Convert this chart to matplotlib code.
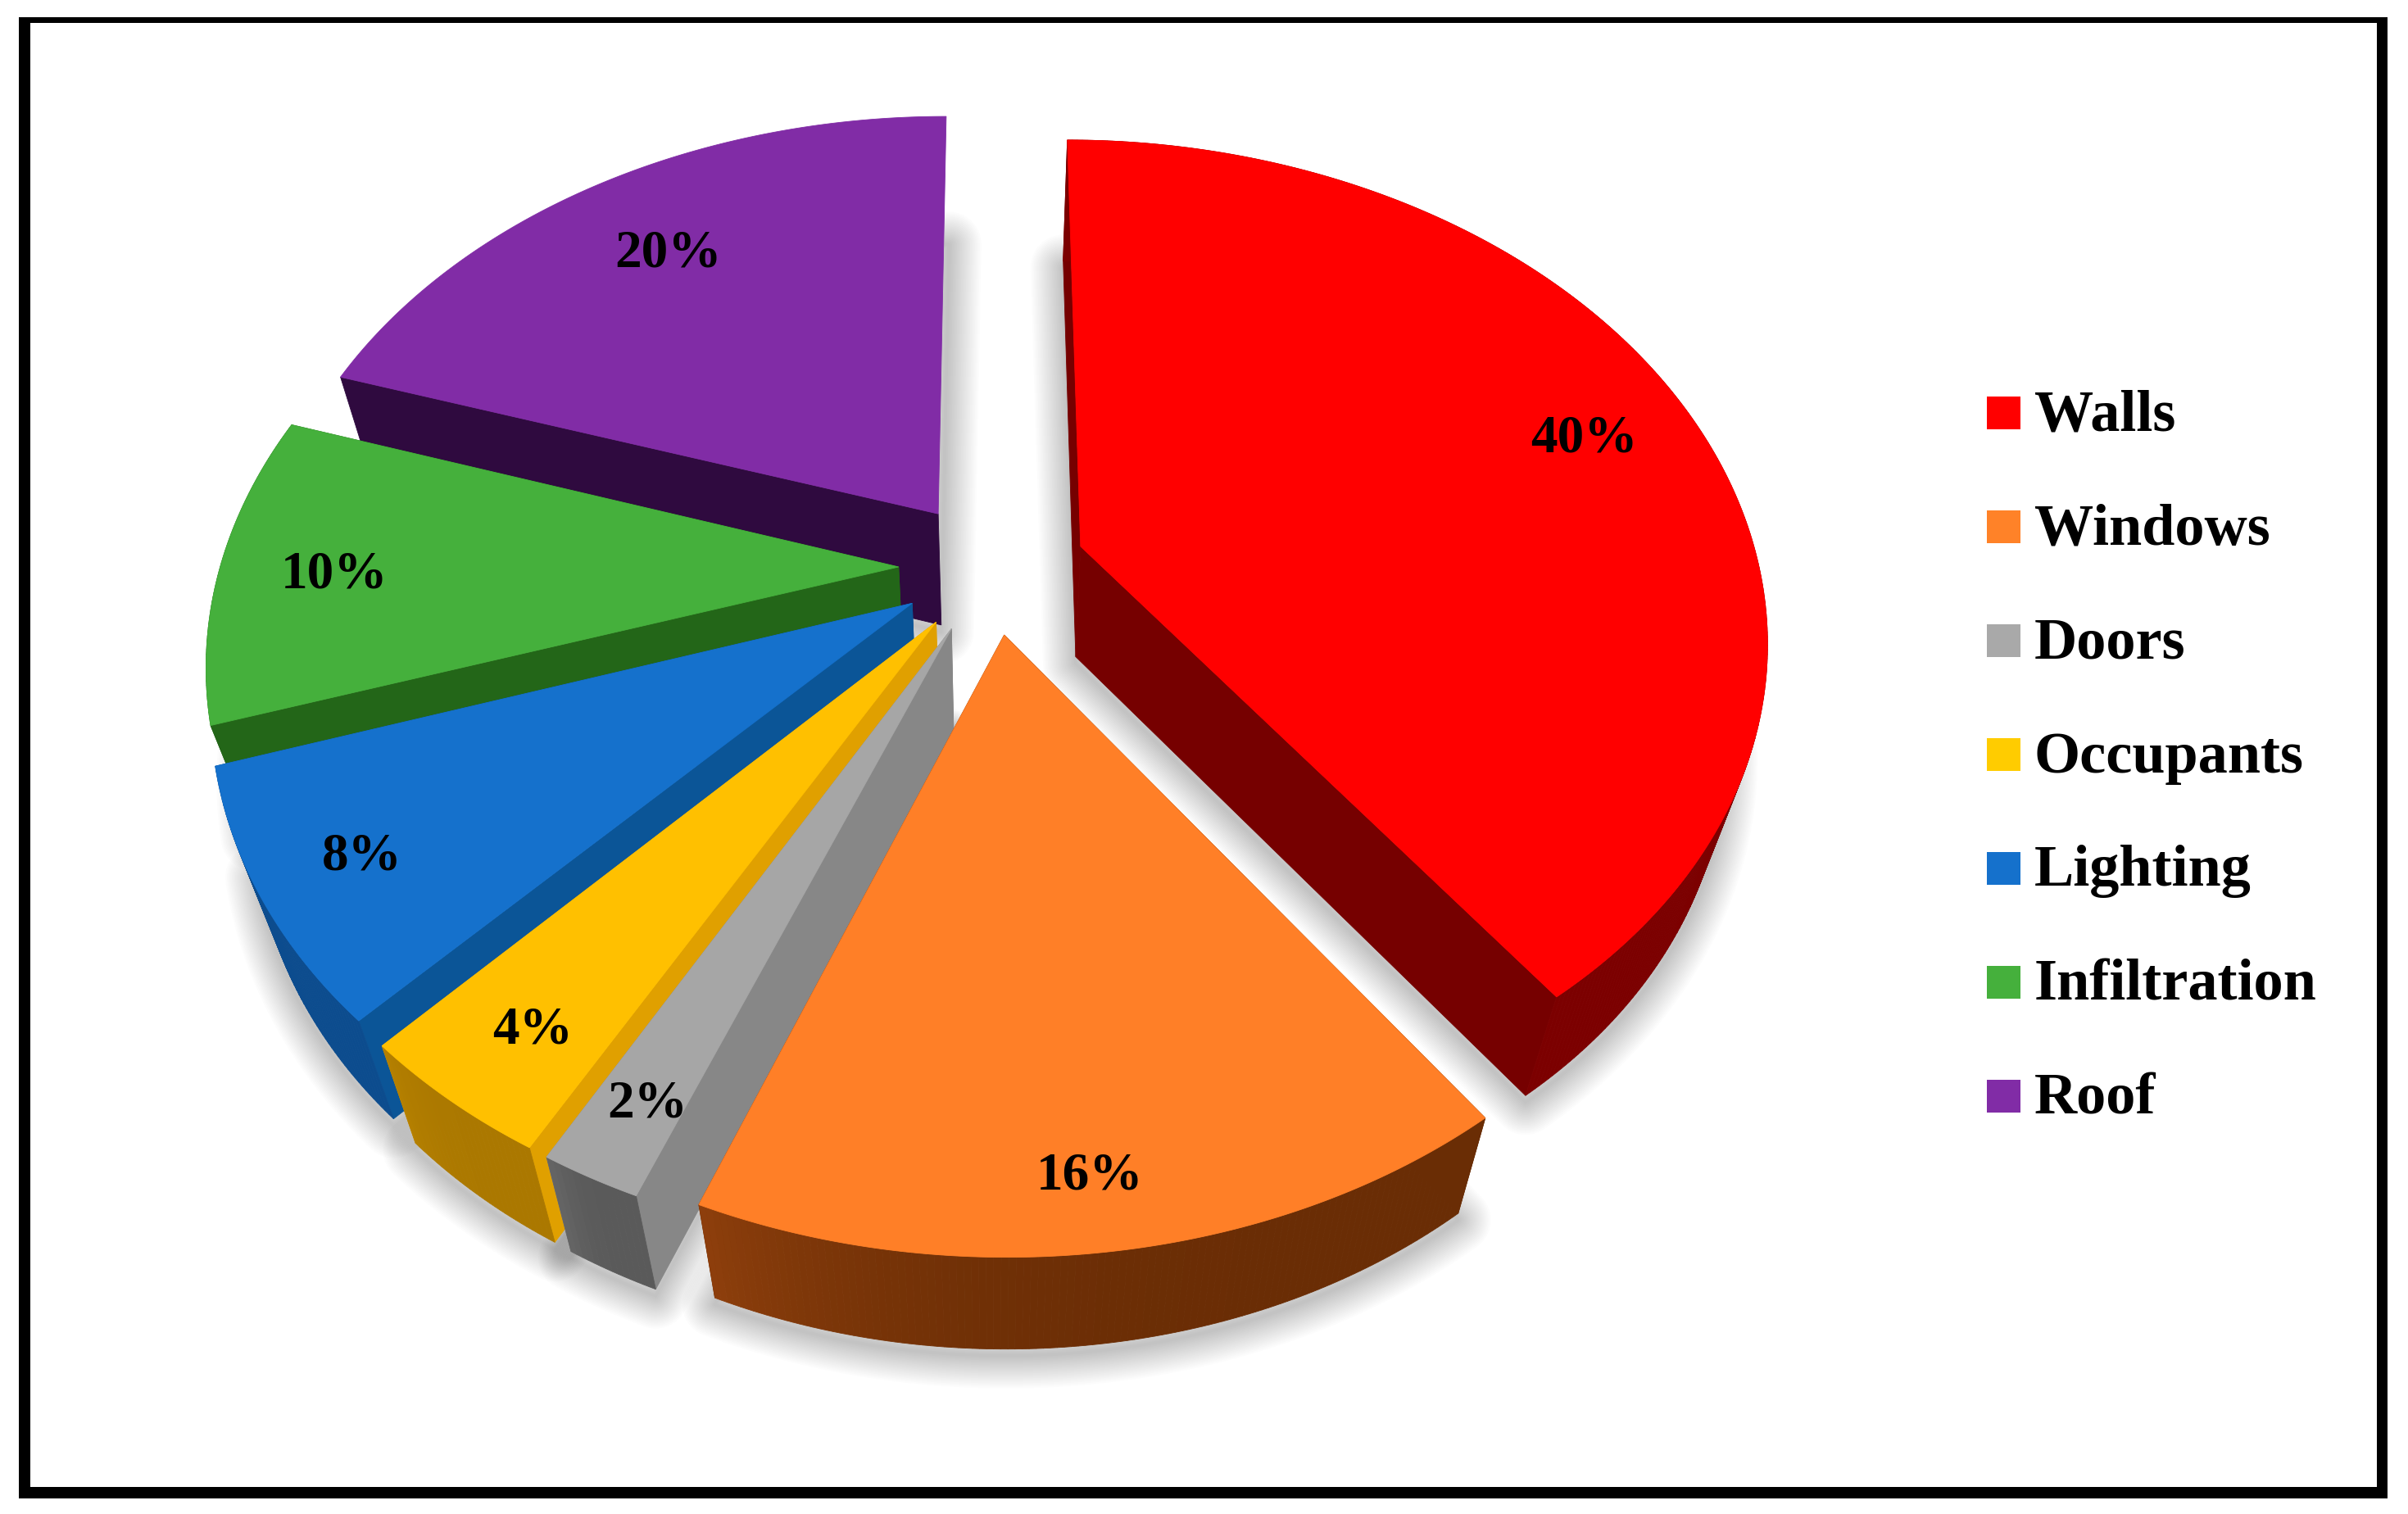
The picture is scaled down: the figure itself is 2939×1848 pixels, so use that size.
import numpy as np
from matplotlib import pyplot as plt
from matplotlib.colors import to_rgb
from matplotlib.patches import Rectangle

# chart data
labels = ['Walls', 'Windows', 'Doors', 'Occupants', 'Lighting', 'Infiltration', 'Roof']
values = [40, 16, 2, 4, 8, 10, 20]

# colours: top face, radial side, rim at start angle, rim at end angle
top_colors = ['#ff0000', '#ff7f27', '#a6a6a6', '#ffc000', '#1571cc', '#45b03c', '#812ca6']
side_colors = ['#760000', '#6a2d05', '#878787', '#e0a000', '#0b5597', '#236618', '#2f0a3f']
rim_start = ['#7c0000', '#6a2d05', '#5a5a5a', '#ab7800', '#0c4c8e', '#236618', '#2f0a3f']
rim_end = ['#7c0000', '#8e3f0c', '#686868', '#b58000', '#0c4c8e', '#236618', '#2f0a3f']
legend_colors = ['#ff0000', '#ff8228', '#a9a9a9', '#ffcc00', '#1571cc', '#45b03c', '#812ca6']

# where the percent labels go (pixels)
label_x = [1933, 1330, 790, 650, 442, 408, 816]
label_y = [536, 1436, 1348, 1258, 1046, 701, 309]

# projection of the pie plane, in pixels
CX, CY = 1211, 693
RX, RY = 828, 592
PERSP = 0.177
EXPLODE = 0.138
# the lower face is a bit smaller, it goes away from the camera
BOTTOM_SCALE = 0.945
DRAW_ORDER = [6, 5, 4, 3, 2, 0, 1]


def project(u, v):
    d = 1 - PERSP * v
    return CX + RX * u / d, CY + RY * v / d


def lower(x, y):
    return CX + (x - CX) * BOTTOM_SCALE, y + 152 - 0.026 * y


def slice_geometry(a0, a1):
    mid = np.radians((a0 + a1) / 2)
    off_u, off_v = EXPLODE * np.sin(mid), -EXPLODE * np.cos(mid)
    ang = np.radians(np.linspace(a0, a1, max(int(a1 - a0) * 2, 6) + 1))
    rim = project(off_u + np.sin(ang), off_v - np.cos(ang))
    apex = project(off_u, off_v)
    return np.array(apex), np.array(rim)


fig = plt.figure(figsize=(29.39, 18.49), dpi=100)
ax = fig.add_axes([0, 0, 1, 1])
ax.set_xlim(0, 2939)
ax.set_ylim(1849, 0)
ax.axis('off')

shares = np.array(values) / sum(values) * 360
ends = np.cumsum(shares)
starts = ends - shares

# soft shadows first, under everything
for i in DRAW_ORDER:
    apex, rim = slice_geometry(starts[i], ends[i])
    xs = np.r_[apex[0], rim[0]]
    ys = np.r_[apex[1], rim[1]]
    xb, yb = lower(xs, ys)
    for w in range(80, 0, -4):
        ax.fill(xb, yb + 8, facecolor='none', edgecolor='black', lw=w * 0.72,
                alpha=0.012, joinstyle='round', zorder=1)

z = 2
for i in DRAW_ORDER:
    apex, rim = slice_geometry(starts[i], ends[i])
    ax_b, ay_b = lower(apex[0], apex[1])
    rx_b, ry_b = lower(rim[0], rim[1])
    is_roof = labels[i] == 'Roof'

    # radial sides, the roof's right one does not show
    for k in ((0,) if is_roof else (0, -1)):
        ax.fill([apex[0], rim[0][k], rx_b[k], ax_b], [apex[1], rim[1][k], ry_b[k], ay_b],
                color=side_colors[i], lw=0.6, zorder=z)
    # rim, in small strips for the gradient (the roof's is at the back, hidden)
    c0, c1 = np.array(to_rgb(rim_start[i])), np.array(to_rgb(rim_end[i]))
    n = len(rim[0]) - 1
    for k in range(0 if is_roof else n):
        t = (k / n) ** 4
        ax.fill([rim[0][k], rim[0][k + 1], rx_b[k + 1], rx_b[k]],
                [rim[1][k], rim[1][k + 1], ry_b[k + 1], ry_b[k]],
                color=c0 * (1 - t) + c1 * t, lw=0.6, zorder=z)
    # top face
    ax.fill(np.r_[apex[0], rim[0]], np.r_[apex[1], rim[1]], color=top_colors[i], lw=0.6, zorder=z + 0.5)
    z += 1

serif = ['Liberation Serif']
for i in range(len(values)):
    ax.text(label_x[i], label_y[i], f'{values[i]}%', fontsize=47, fontweight='bold', family=serif,
            ha='center', va='center', color='black', zorder=50)

# legend
for i, name in enumerate(labels):
    yy = 505 + i * 139
    ax.add_patch(Rectangle((2425, yy - 20), 41, 40, facecolor=legend_colors[i], edgecolor='none', zorder=50))
    ax.text(2483, yy + 3, name, fontsize=52, fontweight='bold', family=serif,
            ha='left', va='center', color='black', zorder=50)

# black frame round the picture, the top bar is thinner
for fx, fy, fw, fh in [(23, 22, 2891, 7), (23, 1816, 2891, 14), (23, 22, 14, 1808), (2901, 22, 13, 1808)]:
    ax.add_patch(Rectangle((fx, fy), fw, fh, facecolor='black', edgecolor='none', zorder=60))

fig.savefig('out.png', dpi=100, facecolor='white')
